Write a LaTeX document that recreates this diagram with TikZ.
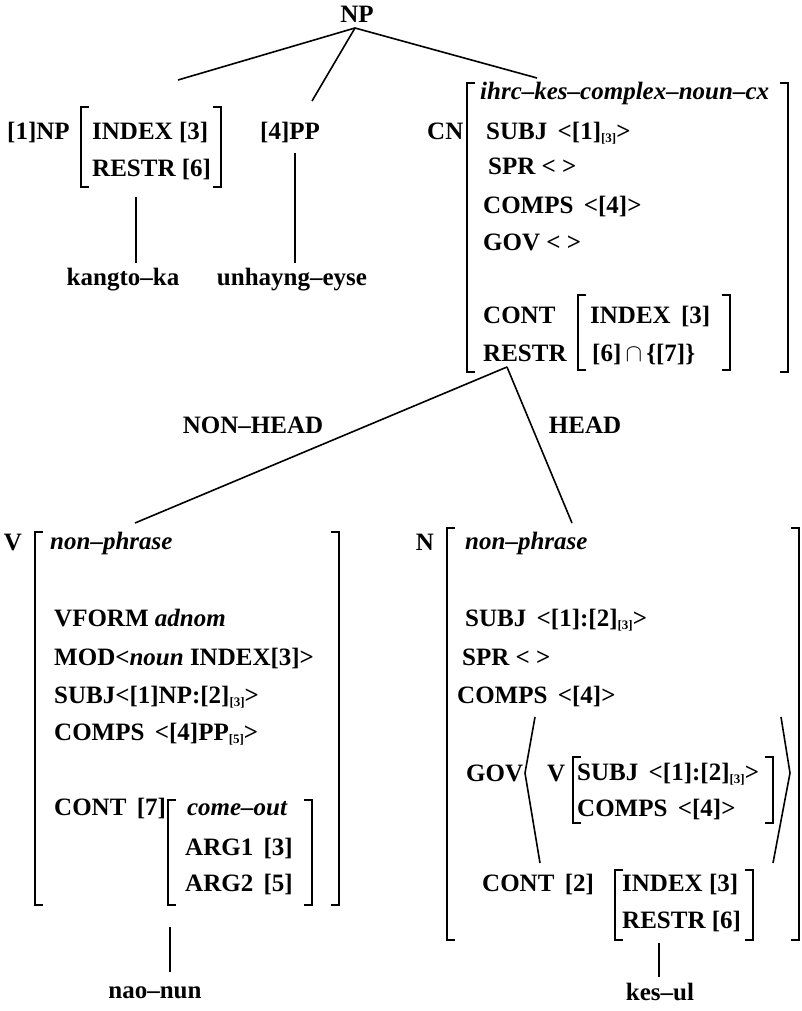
\documentclass[tikz,border=0pt]{standalone}
\usepackage{fontspec}
\setmainfont{Liberation Serif}
\usetikzlibrary{positioning}
\newcommand{\idx}[1]{\raisebox{-3pt}{\fontsize{13}{13}\selectfont #1}}

\begin{document}
\begin{tikzpicture}[x=1pt,y=-1pt,font=\fontsize{25}{29}\selectfont\bfseries,
  txt/.style={anchor=base west,inner sep=0pt},
  ctr/.style={anchor=base,inner sep=0pt},
  branch/.style={line width=1.6pt},
  brak/.style={line width=1.6pt}]
  \useasboundingbox (0,0) rectangle (801,1011);
  % top of the tree
  \node[ctr] (np) at (357,23) {NP};
  \coordinate (np-foot) at (355,28);
  \coordinate (npone-top) at (178,80);
  \coordinate (pp-top) at (312,101);
  \coordinate (cn-top) at (537,78);
  \draw[branch] (np-foot) -- (npone-top);
  \draw[branch] (np-foot) -- (pp-top);
  \draw[branch] (np-foot) -- (cn-top);
  % [1]NP
  \node[txt] (npone) at (7,140) {[1]NP};
  \draw[brak] (89,107) -- (81,107) -- (81,187) -- (89,187);
  \draw[brak] (213,107) -- (221,107) -- (221,187) -- (213,187);
  \node[txt] (npone-index) at (92,140) {INDEX [3]};
  \node[txt] (npone-restr) at (92,177) {RESTR [6]};
  \node[ctr] (kangto) at (123,285) {kangto--ka};
  \coordinate (npone-foot) at (136,197);
  \draw[branch] (npone-foot) -- (136,263);
  % [4]PP
  \node[txt] (pp) at (260,140) {[4]PP};
  \node[ctr] (unhayng) at (292,285) {unhayng--eyse};
  \coordinate (pp-foot) at (295,153);
  \draw[branch] (pp-foot) -- (295,263);
  % CN
  \node[txt] (cn) at (427,140) {CN};
  \draw[brak] (475,83) -- (467,83) -- (467,372) -- (475,372);
  \draw[brak] (780,83) -- (788,83) -- (788,372) -- (780,372);
  \node[txt] (cn-type) at (480,100) {\itshape ihrc--kes--complex--noun--cx};
  \node[txt] (cn-subj) at (486,140) {SUBJ \,<[1]\idx{[3]}>};
  \node[txt] (cn-spr) at (488,175) {SPR < >};
  \node[txt] (cn-comps) at (483,213) {COMPS \,<[4]>};
  \node[txt] (cn-gov) at (483,250) {GOV < >};
  \node[txt] (cn-cont) at (483,323) {CONT};
  \node[txt] (cn-restr) at (483,361) {RESTR};
  \draw[brak] (586,295) -- (578,295) -- (578,370) -- (586,370);
  \draw[brak] (722,295) -- (730,295) -- (730,370) -- (722,370);
  \node[txt] (cn-index) at (590,323) {INDEX \,[3]};
  \node[txt] (cn-set) at (592,361) {[6]\,$\cap$\,\{[7]\}};
  % daughters
  \coordinate (cn-foot) at (507,367);
  \coordinate (v-top) at (135,523);
  \coordinate (n-top) at (572,523);
  \draw[branch] (cn-foot) -- (v-top);
  \draw[branch] (cn-foot) -- (n-top);
  \node[ctr] (nonhead) at (253,433) {NON--HEAD};
  \node[ctr] (head) at (585,433) {HEAD};
  % V
  \node[ctr] (v) at (13,550) {V};
  \draw[brak] (43,532) -- (35,532) -- (35,905) -- (43,905);
  \draw[brak] (331,532) -- (339,532) -- (339,905) -- (331,905);
  \node[txt] (v-type) at (50,549) {\itshape non--phrase};
  \node[txt] (v-vform) at (54,626) {VFORM \textit{adnom}};
  \node[txt] (v-mod) at (54,665) {MOD<\textit{noun} INDEX[3]>};
  \node[txt] (v-subj) at (54,703) {SUBJ<[1]NP:[2]\idx{[3]}>};
  \node[txt] (v-comps) at (54,740) {COMPS \,<[4]PP\idx{[5]}>};
  \node[txt] (v-cont) at (54,815) {CONT \,[7]};
  \draw[brak] (176,800) -- (168,800) -- (168,905) -- (176,905);
  \draw[brak] (304,800) -- (312,800) -- (312,905) -- (304,905);
  \node[ctr] (v-rel) at (237,815) {\itshape come--out};
  \node[txt] (v-arg1) at (185,855) {ARG1 \,[3]};
  \node[txt] (v-arg2) at (185,891) {ARG2 \,[5]};
  \node[ctr] (nao) at (155,998) {nao--nun};
  \coordinate (v-foot) at (170,927);
  \draw[branch] (v-foot) -- (170,972);
  % N
  \node[ctr] (n) at (425,550) {N};
  \draw[brak] (455,528) -- (447,528) -- (447,940) -- (455,940);
  \draw[brak] (791,528) -- (799,528) -- (799,940) -- (791,940);
  \node[txt] (n-type) at (465,549) {\itshape non--phrase};
  \node[txt] (n-subj) at (465,626) {SUBJ \,<[1]:[2]\idx{[3]}>};
  \node[txt] (n-spr) at (462,665) {SPR < >};
  \node[txt] (n-comps) at (457,703) {COMPS \,<[4]>};
  \node[txt] (n-gov) at (466,781) {GOV};
  \draw[branch] (535,717) -- (525,773) -- (540,863);
  \draw[branch] (781,717) -- (790,773) -- (773,863);
  \node[txt] (n-govv) at (547,781) {V};
  \draw[brak] (581,757) -- (573,757) -- (573,823) -- (581,823);
  \draw[brak] (765,757) -- (773,757) -- (773,823) -- (765,823);
  \node[txt] (gov-subj) at (577,780) {SUBJ \,<[1]:[2]\idx{[3]}>};
  \node[txt] (gov-comps) at (577,816) {COMPS \,<[4]>};
  \node[txt] (n-cont) at (482,891) {CONT \,[2]};
  \draw[brak] (623,870) -- (615,870) -- (615,940) -- (623,940);
  \draw[brak] (745,870) -- (753,870) -- (753,940) -- (745,940);
  \node[txt] (n-index) at (622,891) {INDEX [3]};
  \node[txt] (n-restr) at (622,928) {RESTR [6]};
  \node[ctr] (kes) at (660,1000) {kes--ul};
  \coordinate (n-foot) at (659,943);
  \draw[branch] (n-foot) -- (659,977);
\end{tikzpicture}
\end{document}
